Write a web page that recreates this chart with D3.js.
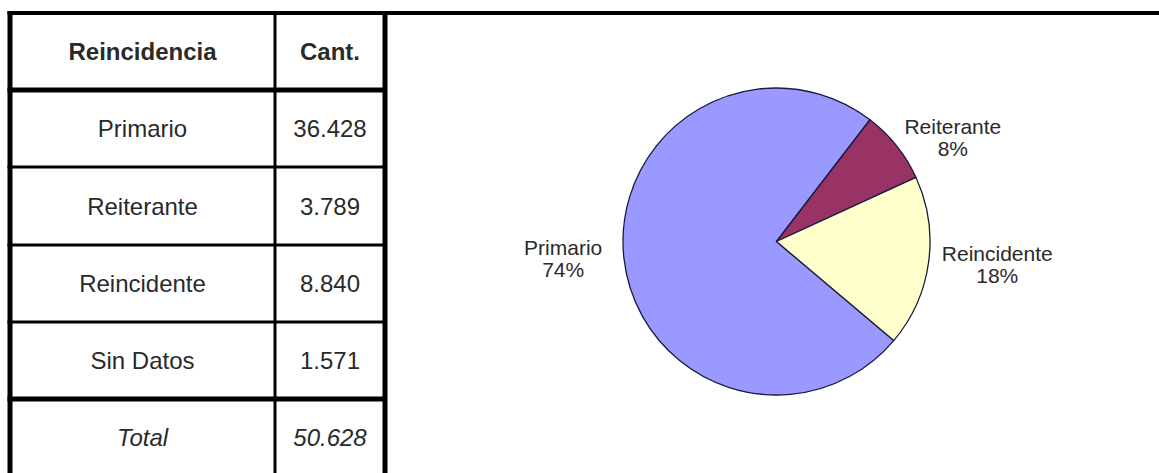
<!DOCTYPE html>
<html>
<head>
<meta charset="utf-8">
<script src="https://cdn.jsdelivr.net/npm/d3@7/dist/d3.min.js"></script>
<style>
  html, body { margin: 0; padding: 0; background: #fff; }
  svg { display: block; }
  text { font-family: "Liberation Sans", Arial, sans-serif; fill: #2a2a2a; }
</style>
</head>
<body>
<svg id="chart" width="1159" height="473"></svg>
<script>
// ---- data ----
const headerLabels = ["Reincidencia", "Cant."];
const categories = ["Primario", "Reiterante", "Reincidente", "Sin Datos"];
const counts = [36428, 3789, 8840, 1571];
const totalLabel = "Total";
const pieCategories = ["Primario", "Reiterante", "Reincidente"];
const pieValues = [36428, 3789, 8840];
const pieColors = ["#9999FF", "#993366", "#FFFFCC"];

// ---- helpers ----
const es = d3.formatLocale({ decimal: ",", thousands: ".", grouping: [3], currency: ["$", ""] });
const fmt = es.format(",d");
const total = d3.sum(counts);

const svg = d3.select("#chart");
const W = 1159, H = 473;

// ---- table ----
const colX = [10, 275, 385];
const rowY = [13, 90, 167, 245, 322, 399, 490];
const rows = [
  { cells: headerLabels, weight: "bold", style: "normal" },
  ...categories.map((c, i) => ({ cells: [c, fmt(counts[i])], weight: "normal", style: "normal" })),
  { cells: [totalLabel, fmt(total)], weight: "normal", style: "italic" }
];

const tbl = svg.append("g");
rows.forEach((r, i) => {
  const yMid = (rowY[i] + rowY[i + 1]) / 2;
  const yc = i === rows.length - 1 ? 437 : yMid;
  r.cells.forEach((t, j) => {
    tbl.append("text")
      .attr("x", (colX[j] + colX[j + 1]) / 2)
      .attr("y", yc + 8.5)
      .attr("text-anchor", "middle")
      .attr("font-size", 24)
      .attr("font-weight", r.weight)
      .attr("font-style", r.style)
      .text(t);
  });
});

// horizontal lines
const hLines = [
  { y: rowY[0], w: 4, x2: W },
  { y: rowY[1], w: 5, x2: colX[2] },
  { y: rowY[2], w: 3, x2: colX[2] },
  { y: rowY[3], w: 3, x2: colX[2] },
  { y: rowY[4], w: 3, x2: colX[2] },
  { y: rowY[5], w: 5, x2: colX[2] }
];
hLines.forEach(l => {
  tbl.append("line").attr("x1", colX[0] - 2.5).attr("x2", l.x2)
    .attr("y1", l.y).attr("y2", l.y)
    .attr("stroke", "#000").attr("stroke-width", l.w);
});
[{ x: colX[0], w: 5 }, { x: colX[1], w: 3 }, { x: colX[2], w: 5 }].forEach(l => {
  tbl.append("line").attr("x1", l.x).attr("x2", l.x)
    .attr("y1", rowY[0] - 2).attr("y2", H)
    .attr("stroke", "#000").attr("stroke-width", l.w);
});

// ---- pie ----
const cx = 776.5, cy = 241.5, r = 153.5;
const startDeg = -229.8;
const pie = d3.pie().sort(null)
  .startAngle(startDeg * Math.PI / 180)
  .endAngle((startDeg + 360) * Math.PI / 180);
const arcs = pie(pieValues);
const arc = d3.arc().innerRadius(0).outerRadius(r);
const pieTotal = d3.sum(pieValues);

const g = svg.append("g").attr("transform", `translate(${cx},${cy})`);
g.selectAll("path").data(arcs).join("path")
  .attr("d", arc)
  .attr("fill", (d, i) => pieColors[i])
  .attr("stroke", "#1a1a40")
  .attr("stroke-width", 1.3)
  .attr("stroke-linejoin", "round");

const labelArc = d3.arc().innerRadius(200).outerRadius(200);
const labelShift = { Primario: [-14.5, -4], Reiterante: [20, 21], Reincidente: [22.6, -4] };
arcs.forEach((d, i) => {
  const [lx, ly] = labelArc.centroid(d);
  const s = labelShift[pieCategories[i]];
  const x = lx + s[0], y = ly + s[1];
  const pct = Math.round(d.data / pieTotal * 100) + "%";
  const t = g.append("text").attr("text-anchor", "middle").attr("font-size", 21);
  t.append("tspan").attr("x", x).attr("y", y - 4).text(pieCategories[i]);
  t.append("tspan").attr("x", x).attr("y", y + 18).text(pct);
});
</script>
</body>
</html>
